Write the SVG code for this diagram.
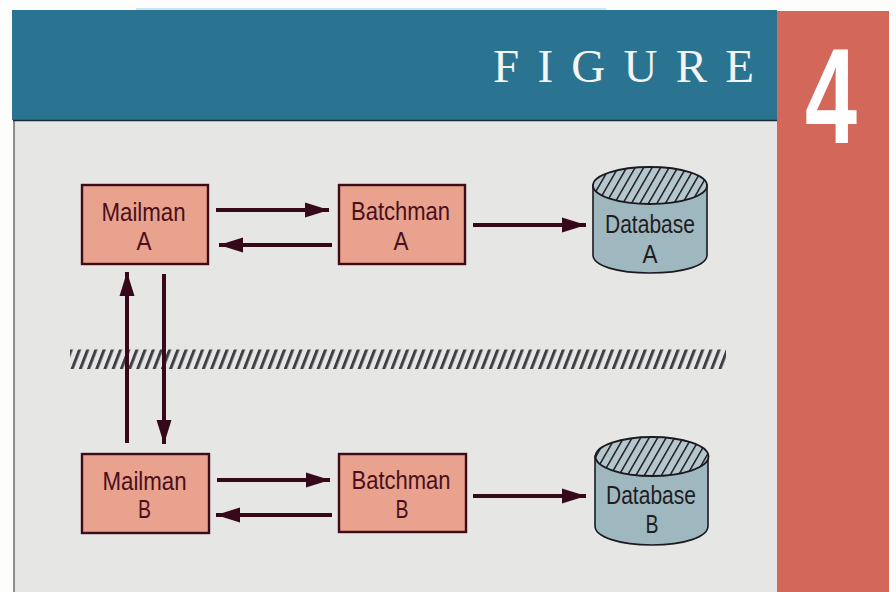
<svg xmlns="http://www.w3.org/2000/svg" width="896" height="592" viewBox="0 0 896 592">
<style>
.box{fill:#e9a28d;stroke:#3d0c18;stroke-width:2.4}
.cyl{fill:#9fb8c0;stroke:#1c1a20;stroke-width:1.6}
.lid{fill:url(#lidhatch);stroke:#1c1a20;stroke-width:1.8}
.t{font-family:"Liberation Sans",Arial,sans-serif;font-size:25.500px;text-anchor:middle}
.tb{fill:#4a0f1c}
.td{fill:#1f1c22}
.a{stroke:#35081a;stroke-width:4;fill:none;marker-end:url(#head)}
</style>
<defs>
<marker id="head" markerUnits="userSpaceOnUse" viewBox="0 0 24 16" refX="24" refY="8" markerWidth="24" markerHeight="16" orient="auto"><path d="M0 0.500L24 8L0 15.500Z" fill="#35081a"/></marker>
<pattern id="lidhatch" patternUnits="userSpaceOnUse" width="8.500" height="40" patternTransform="translate(595 0) skewX(-30)"><rect width="8.500" height="40" fill="#b4c7cc"/><rect width="1.700" height="40" fill="#1c1a20"/></pattern>
<pattern id="bandhatch" patternUnits="userSpaceOnUse" width="8.200" height="20" patternTransform="translate(70 349) skewX(-21)"><rect x="0" width="3.200" height="20" fill="#3f3e44"/></pattern>
</defs>
<rect width="896" height="592" fill="#fdfdfb"/>
<rect x="136" y="8" width="470" height="2" fill="#cfe3ee"/>
<rect id="panel" x="14" y="120" width="763" height="472" fill="#e6e6e5"/>
<path d="M14 120V592" stroke="#4a4a4c" stroke-width="1.200" fill="none"/>
<rect id="banner" x="12" y="10" width="765" height="110" fill="#2a7391"/>
<path d="M13 120.500H777" stroke="#1d2b35" stroke-width="1.500"/>
<rect id="tab" x="777" y="11" width="112" height="581" fill="#d2675a"/>
<text x="493" y="82" font-family="Liberation Serif,serif" font-size="47" fill="#f4f5f2" textLength="261" lengthAdjust="spacing">FIGURE</text>
<text x="831" y="143" font-family="Liberation Sans,Arial,sans-serif" font-weight="700" font-size="136" fill="#fff" text-anchor="middle" textLength="52" lengthAdjust="spacingAndGlyphs">4</text>
<rect id="separator" x="70" y="349.500" width="656" height="19.500" fill="url(#bandhatch)"/>
<g id="connectors">
<path class="a" d="M216 210H329"/>
<path class="a" d="M332 245H219"/>
<path class="a" d="M473 225H586"/>
<path class="a" d="M127 443V272"/>
<path class="a" d="M164 274V444"/>
<path class="a" d="M217 480H330"/>
<path class="a" d="M332 515H216"/>
<path class="a" d="M473 496H586"/>
</g>
<g id="mailman-a"><rect class="box" x="82" y="185" width="126" height="79"/><text class="t tb" x="143.500" y="221" textLength="84" lengthAdjust="spacingAndGlyphs">Mailman</text><text class="t tb" x="144" y="250" textLength="15" lengthAdjust="spacingAndGlyphs">A</text></g>
<g id="batchman-a"><rect class="box" x="339" y="185" width="126" height="79"/><text class="t tb" x="400.500" y="220" textLength="99" lengthAdjust="spacingAndGlyphs">Batchman</text><text class="t tb" x="401" y="250" textLength="15" lengthAdjust="spacingAndGlyphs">A</text></g>
<g id="mailman-b"><rect class="box" x="82" y="454" width="127" height="79"/><text class="t tb" x="144.500" y="490" textLength="84" lengthAdjust="spacingAndGlyphs">Mailman</text><text class="t tb" x="144.500" y="518" textLength="13" lengthAdjust="spacingAndGlyphs">B</text></g>
<g id="batchman-b"><rect class="box" x="339" y="454" width="127" height="78"/><text class="t tb" x="401" y="489" textLength="99" lengthAdjust="spacingAndGlyphs">Batchman</text><text class="t tb" x="402" y="518" textLength="13" lengthAdjust="spacingAndGlyphs">B</text></g>
<g id="database-a"><path class="cyl" d="M593 185V255C593 266 618 273 650 273S707 266 707 255V185Z"/><ellipse class="lid" cx="650" cy="185.500" rx="57" ry="18.500"/><text class="t td" x="650" y="233" textLength="90" lengthAdjust="spacingAndGlyphs">Database</text><text class="t td" x="650" y="263" textLength="15" lengthAdjust="spacingAndGlyphs">A</text></g>
<g id="database-b"><path class="cyl" d="M595 456V526C595 537 620 545 652 545S708 537 708 526V456Z"/><ellipse class="lid" cx="652" cy="456.500" rx="56.500" ry="19.500"/><text class="t td" x="651" y="504" textLength="90" lengthAdjust="spacingAndGlyphs">Database</text><text class="t td" x="652" y="533" textLength="13" lengthAdjust="spacingAndGlyphs">B</text></g>
</svg>
